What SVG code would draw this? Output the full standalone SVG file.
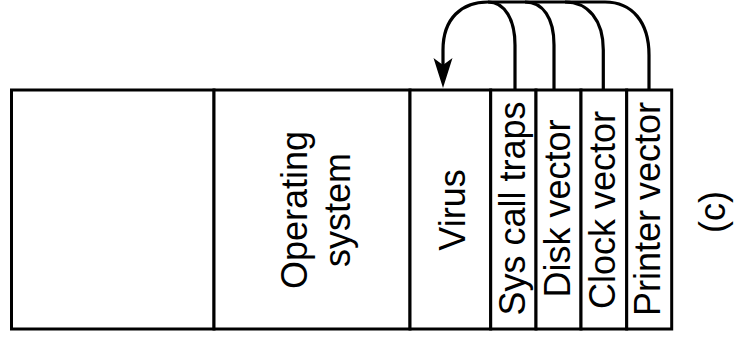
<svg xmlns="http://www.w3.org/2000/svg" width="735" height="351" viewBox="0 0 735 351">
<style>
.cell{fill:#fff;stroke:#000;stroke-width:3}
.lbl{font-family:"Liberation Sans",Arial,sans-serif;font-size:36px;fill:#000;text-anchor:middle}
.conn{fill:none;stroke:#000;stroke-width:3.2}
</style>
<defs>
<marker id="ah" markerUnits="userSpaceOnUse" viewBox="-22 -11 34 22" refX="0" refY="0" markerWidth="34" markerHeight="22" orient="auto">
<path d="M10,0 L-20,-9.5 L-13,0 L-20,9.5 Z" fill="#000"/>
</marker>
</defs>
<rect width="735" height="351" fill="#fff"/>
<g id="free"><rect class="cell" x="11.5" y="90" width="202.5" height="239"/></g>
<g id="os"><rect class="cell" x="214" y="90" width="196" height="239"/>
<text class="lbl" transform="translate(306.5,210) rotate(-90)">Operating</text>
<text class="lbl" transform="translate(350,210) rotate(-90)">system</text></g>
<g id="virus"><rect class="cell" x="410" y="90" width="80.7" height="239"/>
<text class="lbl" transform="translate(465,210) rotate(-90)">Virus</text></g>
<g id="syscall"><rect class="cell" x="490.7" y="90" width="45.3" height="239"/>
<text class="lbl" transform="translate(524.5,208.5) rotate(-90)">Sys call traps</text></g>
<g id="disk"><rect class="cell" x="536" y="90" width="45" height="239"/>
<text class="lbl" transform="translate(569.5,208.5) rotate(-90)">Disk vector</text></g>
<g id="clock"><rect class="cell" x="581" y="90" width="45.7" height="239"/>
<text class="lbl" transform="translate(614.5,210) rotate(-90)">Clock vector</text></g>
<g id="printer"><rect class="cell" x="626.7" y="90" width="45" height="239"/>
<text class="lbl" transform="translate(660,209) rotate(-90)">Printer vector</text></g>
<g id="caption"><text class="lbl" transform="translate(725,212) rotate(-90)">(c)</text></g>
<g id="connectors">
<path class="conn" d="M649,90 V55 C649,22 632,2 605,2 H488 C462,2 443,18 443,50 V78" marker-end="url(#ah)"/>
<path class="conn" d="M603.3,90 V50 C603.3,20 588,2 565,2"/>
<path class="conn" d="M554,90 V45 C554,18 543,2 525,2"/>
<path class="conn" d="M515,90 V45 C515,20 505,2 488,2"/>
</g>
</svg>
